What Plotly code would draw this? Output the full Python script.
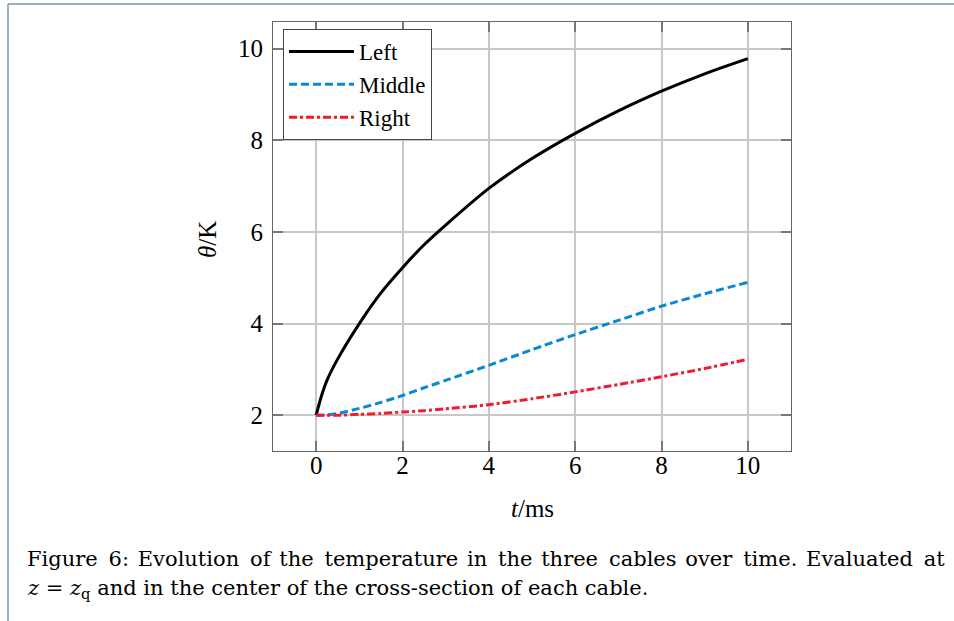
#temperature in the three cables over time
#%%
import plotly.graph_objects as go

#time in ms
t = [0, 0.1, 0.25, 0.5, 1, 1.5, 2, 2.5, 3, 4, 5, 6, 7, 8, 9, 10]
#temperature (K) per cable
theta_left = [2, 2.35, 2.76, 3.23, 4.0, 4.67, 5.22, 5.72, 6.15, 6.95, 7.6, 8.15, 8.64, 9.07, 9.45, 9.78]
theta_middle = [2, 2.0, 2.01, 2.04, 2.15, 2.28, 2.43, 2.6, 2.76, 3.09, 3.43, 3.76, 4.07, 4.38, 4.65, 4.9]
theta_right = [2, 2.0, 2.0, 2.0, 2.02, 2.04, 2.07, 2.1, 2.14, 2.23, 2.36, 2.51, 2.67, 2.84, 3.02, 3.22]
series_names = ['Left', 'Middle', 'Right']

x_ticks = [0, 2, 4, 6, 8, 10]
y_ticks = [2, 4, 6, 8, 10]

caption_line1 = 'Figure 6: Evolution of the temperature in the three cables over time. Evaluated at'
caption_line2 = '<i>z</i> = <i>z</i><sub>q</sub> and in the center of the cross-section of each cable.'

#%%
font_family = 'Liberation Serif'
caption_font = 'DejaVu Serif'
W, H = 954, 621
#plot area in pixels
L, R, T, B = 273, 791, 22, 451

def px(x):
    return (x - L) / (R - L)

def py(y):
    return (B - y) / (B - T)

#first caption line is justified in the original, so widen its spaces a bit
words = caption_line1.split(' ')
caption_line1_just = words[0]
for i, w in enumerate(words[1:]):
    caption_line1_just += (' \u2009' if i % 2 == 0 else ' \u200a') + w

fig = go.Figure()
fig.add_trace(go.Scatter(x=t, y=theta_left, name=series_names[0], mode='lines',
                         line=dict(color='black', width=3, shape='spline', smoothing=0.6)))
fig.add_trace(go.Scatter(x=t, y=theta_middle, name=series_names[1], mode='lines',
                         line=dict(color='#0a89d1', width=3, dash='8px,4px', shape='spline', smoothing=0.6)))
fig.add_trace(go.Scatter(x=t, y=theta_right, name=series_names[2], mode='lines',
                         line=dict(color='#ee1c2e', width=3, dash='8px,3px,3px,3px', shape='spline', smoothing=0.6)))

axis_style = dict(showgrid=True, gridcolor='#c8c8c8', gridwidth=1.5, zeroline=False,
                  showline=True, linecolor='#666666', linewidth=1.2, mirror='allticks',
                  ticks='inside', ticklen=10, tickwidth=2, tickcolor='#777777',
                  tickfont=dict(family=font_family, size=25, color='black'))

fig.update_xaxes(range=[-1, 11], tickvals=x_ticks, ticklabelstandoff=-8, **axis_style)
fig.update_yaxes(range=[1.22, 10.58], tickvals=y_ticks, ticklabelstandoff=4, **axis_style)

#axis titles and caption as annotations so they sit where the reference has them
annotations = [
    dict(text='<i>t</i>/ms', x=px(532), y=py(508), xref='paper', yref='paper',
         xanchor='center', yanchor='middle',
         showarrow=False, font=dict(family=font_family, size=25, color='black')),
    dict(text='<i>θ</i>/K', x=px(207), y=py(240), xref='paper', yref='paper', textangle=-90,
         xanchor='center', yanchor='middle',
         showarrow=False, font=dict(family=font_family, size=25, color='black')),
    dict(text=caption_line1_just, x=px(25), y=py(559), xref='paper', yref='paper',
         xanchor='left', yanchor='middle', showarrow=False,
         font=dict(family=caption_font, size=21, color='black')),
    dict(text=caption_line2, x=px(25), y=py(589), xref='paper', yref='paper',
         xanchor='left', yanchor='middle', showarrow=False,
         font=dict(family=caption_font, size=21, color='black')),
]

#page frame lines (top and left)
shapes = [
    dict(type='line', xref='paper', yref='paper', x0=px(8), x1=px(960), y0=py(4), y1=py(4),
         line=dict(color='#7b93ad', width=1.5)),
    dict(type='line', xref='paper', yref='paper', x0=px(8), x1=px(8), y0=py(4), y1=py(630),
         line=dict(color='#7b93ad', width=1.5)),
]

fig.update_layout(
    width=W, height=H,
    margin=dict(l=L, r=W - R, t=T, b=H - B, autoexpand=False),
    paper_bgcolor='white', plot_bgcolor='white',
    showlegend=True,
    legend=dict(x=px(283), y=py(29), xanchor='left', yanchor='top',
                bgcolor='white', bordercolor='#444444', borderwidth=1,
                font=dict(family=font_family, size=23, color='black'),
                itemwidth=65, tracegroupgap=0),
    annotations=annotations, shapes=shapes,
)

#drop the browser's default body margin so the figure starts at the page corner
fig.write_html("out.html", config={'displayModeBar': False},
               post_script="document.body.style.margin='0';")
